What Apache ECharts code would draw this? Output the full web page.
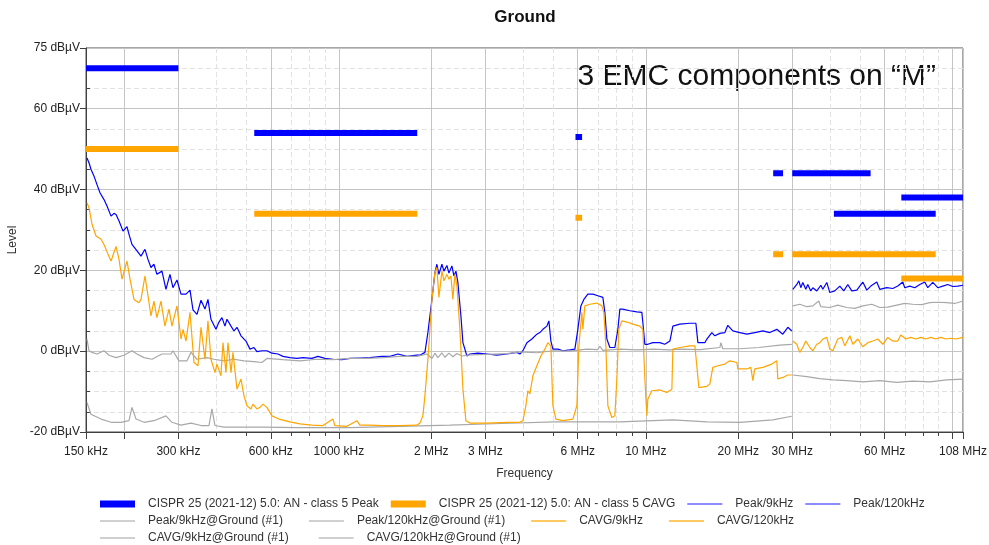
<!DOCTYPE html>
<html>
<head>
<meta charset="utf-8">
<title>Ground</title>
<script src="https://cdn.jsdelivr.net/npm/echarts@6/dist/echarts.min.js"></script>
<style>
  html, body { margin: 0; padding: 0; background: #fff; }
  #chart { width: 989px; height: 545px; }
</style>
</head>
<body>
<div id="chart"></div>
<script>
// frequencies in MHz, levels in dBµV

// CISPR 25 class 5 limit segments
const limitPeakStart = [0.15, 0.53, 5.9, 26, 30, 41, 68];
const limitPeakEnd = [0.3, 1.8, 6.2, 28, 54, 88, 108];
const limitPeakLevel = [70, 54, 53, 44, 44, 34, 38];
const limitAvgStart = [0.15, 0.53, 5.9, 26, 30, 68];
const limitAvgEnd = [0.3, 1.8, 6.2, 28, 88, 108];
const limitAvgLevel = [50, 34, 33, 24, 24, 18];

// Peak/9kHz
const pk9Freq = [0.1511, 0.1534, 0.1557, 0.1593, 0.1629, 0.1666, 0.1717, 0.1756, 0.1810, 0.1851,
  0.1879, 0.1922, 0.1980, 0.2040, 0.2071, 0.2118, 0.2199, 0.2266, 0.2335, 0.2388,
  0.2442, 0.2497, 0.2554, 0.2652, 0.2733, 0.2816, 0.2880, 0.2968, 0.3059, 0.3176,
  0.3273, 0.3347, 0.3449, 0.3554, 0.3662, 0.3745, 0.3830, 0.3976, 0.4067, 0.4159,
  0.4254, 0.4319, 0.4451, 0.4552, 0.4656, 0.4798, 0.4980, 0.5132, 0.5288, 0.5408,
  0.5615, 0.5829, 0.6052, 0.6331, 0.6573, 0.6928, 0.7301, 0.7637, 0.8169, 0.8546,
  0.9006, 0.9563, 1.023, 1.087, 1.171, 1.262, 1.381, 1.467, 1.557, 1.666,
  1.796, 1.837, 1.907, 1.950, 2.010, 2.055, 2.086, 2.118, 2.166, 2.199,
  2.249, 2.283, 2.335, 2.370, 2.406, 2.442, 2.498, 2.536, 2.613, 2.672,
  2.838, 3.035, 3.272, 3.527, 3.801, 3.888, 3.977, 4.098, 4.254, 4.417,
  4.517, 4.620, 4.760, 4.833, 4.906, 4.980, 5.170, 5.368, 5.657, 5.873,
  6.007, 6.144, 6.283, 6.474, 6.722, 6.979, 7.246, 7.355, 7.466, 7.636,
  7.928, 8.109, 8.231, 8.418, 8.872, 9.350, 9.707, 9.780, 9.928, 10.15,
  10.54, 11.11, 11.53, 11.98, 12.25, 12.91, 13.92, 14.56, 14.78, 15.57,
  15.81, 16.41, 16.78, 17.43, 18.09, 18.50, 19.21, 20.25, 21.34, 22.65,
  24.06, 25.35, 26.72, 27.95, 29.02, 29.90];
const pk9Level = [47.8, 46.6, 45.0, 43.3, 41.2, 39.2, 37.5, 35.9, 33.4, 34.1,
  33.8, 32.2, 29.7, 30.8, 28.9, 26.4, 24.8, 23.5, 25.2, 22.7,
  20.7, 21.5, 19.0, 19.8, 15.3, 19.0, 15.7, 17.6, 14.1, 14.1,
  15.1, 10.2, 9.1, 12.6, 10.4, 12.8, 7.9, 5.4, 7.2, 8.3,
  6.2, 7.9, 6.2, 5.0, 5.9, 3.8, 2.5, 0.5, 0.9, -0.1,
  0.1, 0.1, -0.5, -0.7, -1.3, -1.6, -1.8, -1.6, -1.8, -1.3,
  -1.8, -2.0, -2.1, -1.8, -1.7, -1.6, -1.3, -1.3, -0.7, -1.3,
  -1.0, -1.0, -0.3, 4.6, 12.8, 19.4, 21.5, 19.0, 21.5, 19.8,
  21.2, 19.3, 21.1, 18.6, 19.8, 17.0, 8.7, 2.1, -1.2, -0.7,
  -0.5, -0.7, -1.0, -0.7, -0.3, -0.7, 0.1, 2.1, 3.0, 4.2,
  4.6, 5.4, 6.2, 7.5, 2.5, 0.5, 0.5, 0.1, 0.3, 0.5,
  5.4, 11.2, 12.8, 14.1, 14.1, 13.7, 13.3, 9.6, 3.0, 0.9,
  0.9, 5.4, 10.4, 10.4, 10.0, 9.7, 9.6, 7.1, 1.7, 1.7,
  2.1, 2.1, 1.7, 2.5, 6.2, 6.7, 6.9, 6.9, 2.1, 2.1,
  3.0, 4.6, 3.8, 4.4, 4.6, 6.4, 5.0, 4.6, 4.2, 4.6,
  5.0, 4.6, 5.4, 4.2, 5.9, 5.0];

// CAVG/9kHz
const av9Freq = [0.1511, 0.1534, 0.1569, 0.1617, 0.1679, 0.1717, 0.1769, 0.1810, 0.1879, 0.1922,
  0.1965, 0.2040, 0.2087, 0.2150, 0.2232, 0.2266, 0.2335, 0.2388, 0.2442, 0.2497,
  0.2554, 0.2632, 0.2712, 0.2795, 0.2859, 0.2968, 0.3059, 0.3105, 0.3176, 0.3273,
  0.3372, 0.3475, 0.3554, 0.3662, 0.3745, 0.3830, 0.3947, 0.4006, 0.4128, 0.4191,
  0.4287, 0.4352, 0.4451, 0.4518, 0.4656, 0.4798, 0.4906, 0.5017, 0.5170, 0.5248,
  0.5408, 0.5531, 0.5657, 0.5829, 0.6052, 0.6379, 0.6928, 0.7467, 0.8169, 0.8872,
  0.9563, 0.9707, 1.062, 1.145, 1.171, 1.262, 1.392, 1.581, 1.796, 1.837,
  1.878, 1.907, 1.950, 2.010, 2.055, 2.086, 2.118, 2.166, 2.199, 2.249,
  2.283, 2.317, 2.352, 2.388, 2.424, 2.479, 2.536, 2.593, 2.672, 3.035,
  3.527, 3.888, 3.977, 4.067, 4.128, 4.191, 4.286, 4.417, 4.551, 4.690,
  4.796, 4.906, 4.980, 5.093, 5.368, 5.786, 5.962, 6.052, 6.190, 6.236,
  6.330, 6.573, 6.927, 7.191, 7.300, 7.410, 7.522, 7.751, 7.928, 8.048,
  8.169, 8.355, 8.674, 9.074, 9.563, 9.780, 9.928, 10.08, 10.15, 10.46,
  11.11, 11.71, 12.16, 12.25, 12.91, 13.92, 14.45, 14.66, 14.89, 15.81,
  16.17, 16.53, 17.17, 18.09, 18.78, 19.80, 19.94, 21.34, 21.99, 22.32,
  22.65, 24.06, 25.73, 26.72, 26.92, 27.95, 29.02, 29.90];
const av9Level = [36.7, 35.5, 31.4, 28.5, 27.7, 26.4, 24.0, 22.3, 25.9, 22.7,
  17.8, 22.3, 17.8, 12.8, 12.0, 12.8, 18.6, 13.7, 8.7, 12.4,
  8.3, 12.4, 6.2, 10.4, 6.2, 11.2, 3.0, 5.4, 2.5, 9.6,
  -2.8, -3.6, 5.9, -2.0, 7.5, -2.0, -5.3, -3.2, -6.1, 2.1,
  -5.3, 2.1, -5.3, -0.3, -9.4, -6.9, -11.0, -13.5, -14.3, -13.1,
  -14.3, -13.9, -13.1, -13.9, -16.0, -16.8, -17.5, -18.0, -18.3, -18.4,
  -16.8, -18.4, -18.6, -17.2, -18.3, -18.3, -18.4, -18.4, -18.3, -17.8,
  -16.0, -11.0, -2.0, 12.8, 19.4, 20.7, 13.3, 19.8, 17.4, 19.0,
  17.8, 18.6, 12.8, 19.0, 16.1, 5.4, -9.4, -17.2, -17.8, -17.8,
  -17.6, -17.6, -17.2, -13.5, -9.8, -10.6, -6.1, -3.6, -1.2, 0.5,
  2.1, 1.3, -13.5, -16.8, -17.2, -16.8, -13.5, 1.3, 9.6, 5.4,
  11.2, 11.6, 11.9, 11.2, 9.6, 1.3, -13.5, -16.4, -16.0, -6.9,
  5.4, 7.5, 7.2, 6.7, 6.2, 5.4, -6.9, -16.0, -11.9, -9.8,
  -9.6, -10.2, -9.4, 0.5, 0.9, 1.3, 1.3, -3.6, -9.0, -8.7,
  -8.1, -4.0, -3.6, -3.2, -2.4, -2.8, -4.4, -4.4, -4.0, -7.3,
  -4.4, -4.0, -3.2, -2.4, -6.9, -6.5, -5.9, -5.9];

// Peak/9kHz@Ground (#1)
const pg9Freq = [0.1511, 0.1534, 0.1569, 0.1629, 0.1717, 0.1783, 0.1879, 0.1995, 0.2118, 0.2199,
  0.2318, 0.2460, 0.2652, 0.2837, 0.2880, 0.3013, 0.3200, 0.3297, 0.3449, 0.3717,
  0.3917, 0.4222, 0.4552, 0.4906, 0.5288, 0.5615, 0.5829, 0.6573, 0.7467, 0.8482,
  0.9563, 1.087, 1.234, 1.392, 1.581, 1.796, 1.936, 2.010, 2.055, 2.102,
  2.166, 2.215, 2.283, 2.352, 2.424, 2.517, 2.672, 3.035, 3.527, 3.888,
  4.417, 4.980, 5.657, 6.426, 6.979, 7.084, 7.246, 8.231, 9.350, 10.54,
  11.98, 12.91, 15.00, 17.43, 17.56, 17.82, 20.25, 23.35, 27.33, 29.90];
const pg9Level = [3.0, 0.1, -0.3, -0.7, 0.1, -1.0, -1.6, -1.0, 0.1, -0.7,
  -1.6, -2.0, -0.7, -0.7, 0.1, -2.4, -2.4, -0.3, -2.0, -1.6,
  -2.0, -2.4, -2.0, -2.4, -2.6, -2.8, -1.8, -2.1, -2.4, -2.0,
  -2.1, -1.8, -1.8, -1.6, -1.3, -1.3, -0.7, -1.8, -0.5, -1.6,
  -0.4, -1.5, -0.5, -1.4, -0.6, -1.2, -0.9, -0.8, -0.6, -0.2,
  -0.4, 0.1, 0.0, 0.5, 0.4, 1.2, 0.2, 0.5, 0.3, 0.5,
  0.3, 0.5, 0.4, 0.9, 2.1, 0.6, 0.6, 0.9, 1.5, 1.7];

// CAVG/9kHz@Ground (#1)
const ag9Freq = [0.1511, 0.1557, 0.1679, 0.1810, 0.1951, 0.2071, 0.2118, 0.2183, 0.2318, 0.2497,
  0.2733, 0.2859, 0.3059, 0.3297, 0.3554, 0.3773, 0.3859, 0.3947, 0.4222, 0.4798,
  0.5615, 0.7467, 1.087, 1.581, 2.300, 3.372, 5.055, 8.231, 12.25, 15.81,
  20.25, 25.93, 29.90];
const ag9Level = [-12.7, -15.6, -16.8, -17.6, -17.6, -17.2, -13.9, -16.8, -17.6, -17.2,
  -16.0, -17.6, -18.3, -17.8, -18.4, -18.4, -14.3, -18.4, -18.8, -18.8,
  -18.8, -18.9, -18.9, -18.6, -18.3, -17.9, -17.5, -17.5, -17.0, -17.5,
  -17.6, -17.0, -16.1];

// Peak/120kHz
const pk120Freq = [30.13, 31.04, 31.51, 31.99, 32.47, 33.21, 33.71, 34.48, 35.00, 36.07,
  37.17, 37.73, 38.88, 39.76, 41.28, 42.86, 44.16, 45.51, 46.89, 48.69,
  50.93, 52.48, 54.08, 56.56, 57.85, 60.97, 63.78, 66.21, 68.74, 69.78,
  72.45, 75.22, 78.09, 81.07, 82.92, 86.09, 89.38, 92.80, 96.34, 100.0,
  103.8, 108.0];
const pk120Level = [15.3, 16.5, 17.4, 15.7, 17.0, 15.3, 16.5, 14.9, 15.7, 14.9,
  16.3, 15.3, 17.0, 14.5, 14.9, 16.1, 14.9, 16.5, 14.9, 15.1,
  17.1, 15.1, 16.1, 17.1, 15.3, 15.7, 15.5, 16.1, 17.1, 15.7,
  16.1, 15.7, 16.5, 17.1, 15.7, 17.0, 15.7, 16.1, 16.5, 16.0,
  16.1, 16.3];

// Peak/120kHz@Ground (#1)
const pg120Freq = [30.13, 31.75, 33.46, 35.00, 36.61, 37.17, 39.76, 42.22, 45.17, 47.96,
  50.93, 54.48, 57.85, 61.43, 65.72, 69.78, 74.10, 79.27, 84.18, 89.38,
  95.62, 101.5, 108.0];
const pg120Level = [11.2, 11.6, 11.0, 11.2, 12.4, 11.0, 10.8, 11.4, 10.8, 10.6,
  11.2, 11.6, 10.8, 10.9, 11.4, 11.8, 11.6, 11.5, 12.0, 12.1,
  12.0, 11.8, 12.4];

// CAVG/120kHz
const av120Freq = [30.13, 31.04, 31.75, 32.47, 33.21, 34.23, 35.00, 36.07, 36.89, 37.73,
  38.88, 39.76, 40.67, 42.22, 43.51, 44.49, 46.20, 47.25, 49.05, 50.93,
  52.87, 54.89, 56.99, 59.17, 61.43, 63.78, 66.21, 67.72, 70.31, 72.99,
  75.79, 78.68, 81.69, 84.81, 88.05, 91.42, 94.91, 98.53, 102.3, 108.0];
const av120Level = [2.5, 1.7, -0.3, 0.9, 2.5, 0.9, 0.1, 1.7, 2.1, 3.0,
  3.4, 0.5, 0.1, 3.0, 3.4, 1.3, 3.8, 1.7, 3.0, 1.1,
  2.1, 2.5, 3.0, 1.7, 3.4, 2.5, 2.5, 4.0, 3.0, 3.4,
  3.0, 3.4, 3.0, 3.4, 3.0, 3.4, 3.0, 3.2, 3.0, 3.4];

// CAVG/120kHz@Ground (#1)
const ag120Freq = [30.13, 33.46, 36.89, 40.67, 45.17, 50.93, 57.85, 65.72, 74.10, 84.18, 95.62, 108.0];
const ag120Level = [-5.9, -6.3, -6.8, -7.1, -7.3, -7.6, -7.3, -7.7, -7.4, -7.6, -7.1, -6.9];

// axis ticks
const freqLabelValues = [0.15, 0.3, 0.6, 1, 2, 3, 6, 10, 20, 30, 60, 108];
const freqLabels = ['150 kHz', '300 kHz', '600 kHz', '1000 kHz', '2 MHz', '3 MHz', '6 MHz', '10 MHz', '20 MHz', '30 MHz', '60 MHz', '108 MHz'];
const freqMajor = [0.15, 0.2, 0.3, 0.6, 1, 2, 3, 6, 10, 20, 30, 60, 100, 108];
const freqMinor = [0.4, 0.5, 0.7, 0.8, 0.9, 4, 5, 7, 8, 9, 40, 50, 70, 80, 90];
const levelMajor = [-20, 0, 20, 40, 60, 75];
const levelMinor = [-15, -10, -5, 5, 10, 15, 25, 30, 35, 45, 50, 55, 65, 70];

const FONT = 'Liberation Sans';
const lg = Math.log10;
const xMin = lg(0.15);
const xMax = lg(108);

const toPoints = (freqs, levels) => freqs.map((f, i) => [lg(f), levels[i]]);
const toSegments = (starts, ends, levels) => {
  const out = [];
  starts.forEach((s, i) => {
    out.push([lg(s), levels[i]], [lg(ends[i]), levels[i]], [lg(ends[i]), '-']);
  });
  return out;
};

const trace = (name, freqs, levels, color, z) => ({
  name,
  type: 'line',
  data: toPoints(freqs, levels),
  symbol: 'none',
  showSymbol: false,
  silent: true,
  z,
  itemStyle: { color },
  lineStyle: { color, width: 1.2 },
});

const limit = (name, data, color) => ({
  name,
  type: 'line',
  data,
  symbol: 'none',
  showSymbol: false,
  silent: true,
  connectNulls: false,
  z: 10,
  itemStyle: { color },
  lineStyle: { color, width: 6, cap: 'butt' },
});

const BLUE = '#0000ff';
const ORANGE = '#ffa500';
const GREY = '#a8a8a8';
const LIMIT_PK = 'CISPR 25 (2021-12) 5.0: AN - class 5 Peak';
const LIMIT_AV = 'CISPR 25 (2021-12) 5.0: AN - class 5 CAVG';

const thickIcon = 'path://M0,0h35v7h-35z M43,0L43,7';
const thinIcon = 'path://M0,2.5h35v2h-35z M43,0L43,7';
const legendItem = (name, icon, color) => ({ name, icon, itemStyle: { color, borderWidth: 0 } });
const legendRow = (top, gap, data) => ({
  left: 100,
  top,
  padding: 0,
  itemGap: gap,
  itemWidth: 43,
  itemHeight: 7,
  selectedMode: false,
  textStyle: { fontFamily: FONT, fontSize: 12, color: '#333' },
  data,
});

const chart = echarts.init(document.getElementById('chart'));

chart.setOption({
  animation: false,
  backgroundColor: '#fff',
  textStyle: { fontFamily: FONT },
  graphic: [
    {
      type: 'text', x: 525, y: 17,
      style: { text: 'Ground', fill: '#111', font: `bold 17px "${FONT}"`, textAlign: 'center', textVerticalAlign: 'middle' },
    },
    {
      type: 'text', x: 936, y: 77,
      style: { text: '3 EMC components on \u201cM\u201d', fill: '#111', font: `30px "${FONT}"`, textAlign: 'right', textVerticalAlign: 'middle' },
    },
  ],
  legend: [
    legendRow(498, 12, [
      legendItem(LIMIT_PK, thickIcon, BLUE),
      legendItem(LIMIT_AV, thickIcon, ORANGE),
      legendItem('Peak/9kHz', thinIcon, '#8c8cff'),
      legendItem('Peak/120kHz', thinIcon, '#8c8cff'),
    ]),
    legendRow(515, 26, [
      legendItem('Peak/9kHz@Ground (#1)', thinIcon, '#d0d0d0'),
      legendItem('Peak/120kHz@Ground (#1)', thinIcon, '#d0d0d0'),
      legendItem('CAVG/9kHz', thinIcon, '#ffc860'),
      legendItem('CAVG/120kHz', thinIcon, '#ffc860'),
    ]),
    legendRow(532, 30, [
      legendItem('CAVG/9kHz@Ground (#1)', thinIcon, '#d0d0d0'),
      legendItem('CAVG/120kHz@Ground (#1)', thinIcon, '#d0d0d0'),
    ]),
  ],
  grid: {
    left: 86, right: 26, top: 48, bottom: 113,
    show: true, borderColor: '#505050', borderWidth: 1,
    outerBoundsMode: 'none',
  },
  xAxis: [
    {
      type: 'value', min: xMin, max: xMax, position: 'bottom',
      name: 'Frequency', nameLocation: 'middle', nameGap: 36,
      nameTextStyle: { fontFamily: FONT, fontSize: 12, color: '#333' },
      axisLine: { onZero: false, lineStyle: { color: '#404040' } },
      axisTick: { show: true, inside: false, length: 7, customValues: freqMajor.map(lg), lineStyle: { color: '#404040' } },
      axisLabel: {
        customValues: freqLabelValues.map(lg), margin: 14,
        fontFamily: FONT, fontSize: 12, color: '#222',
        formatter: (v) => {
          const i = freqLabelValues.findIndex((f) => Math.abs(lg(f) - v) < 1e-6);
          return i >= 0 ? freqLabels[i] : '';
        },
      },
      splitLine: { show: true, lineStyle: { color: '#c4c4c4', width: 1 } },
    },
    {
      type: 'value', min: xMin, max: xMax, position: 'bottom',
      axisLine: { show: false, onZero: false },
      axisTick: { show: true, inside: false, length: 4, customValues: freqMinor.map(lg), lineStyle: { color: '#404040' } },
      axisLabel: { show: false },
      splitLine: { show: true, lineStyle: { color: '#e2e2e2', width: 1, type: [5, 3] } },
    },
  ],
  yAxis: [
    {
      type: 'value', min: -20, max: 75, position: 'left',
      name: 'Level', nameLocation: 'middle', nameGap: 64,
      nameTextStyle: { fontFamily: FONT, fontSize: 12, color: '#333' },
      axisLine: { show: true, onZero: false, lineStyle: { color: '#404040' } },
      axisTick: { show: true, inside: false, length: 6, customValues: levelMajor, lineStyle: { color: '#404040' } },
      axisLabel: {
        customValues: levelMajor, margin: 6,
        fontFamily: FONT, fontSize: 12, color: '#222',
        formatter: (v) => `${v} dB\u00b5V`,
      },
      splitLine: { show: true, lineStyle: { color: '#c4c4c4', width: 1 } },
    },
    {
      type: 'value', min: -20, max: 75, position: 'left',
      axisLine: { show: false, onZero: false },
      axisTick: { show: true, inside: true, length: 4, customValues: levelMinor, lineStyle: { color: '#404040' } },
      axisLabel: { show: false },
      splitLine: { show: true, lineStyle: { color: '#e2e2e2', width: 1, type: [5, 3] } },
    },
  ],
  series: [
    trace('Peak/9kHz', pk9Freq, pk9Level, BLUE, 3),
    trace('Peak/120kHz', pk120Freq, pk120Level, BLUE, 3),
    trace('Peak/9kHz@Ground (#1)', pg9Freq, pg9Level, GREY, 4),
    trace('Peak/120kHz@Ground (#1)', pg120Freq, pg120Level, GREY, 4),
    trace('CAVG/9kHz', av9Freq, av9Level, ORANGE, 5),
    trace('CAVG/120kHz', av120Freq, av120Level, ORANGE, 5),
    trace('CAVG/9kHz@Ground (#1)', ag9Freq, ag9Level, GREY, 4),
    trace('CAVG/120kHz@Ground (#1)', ag120Freq, ag120Level, GREY, 4),
    limit(LIMIT_PK, toSegments(limitPeakStart, limitPeakEnd, limitPeakLevel), BLUE),
    limit(LIMIT_AV, toSegments(limitAvgStart, limitAvgEnd, limitAvgLevel), ORANGE),
  ],
});
</script>
</body>
</html>
